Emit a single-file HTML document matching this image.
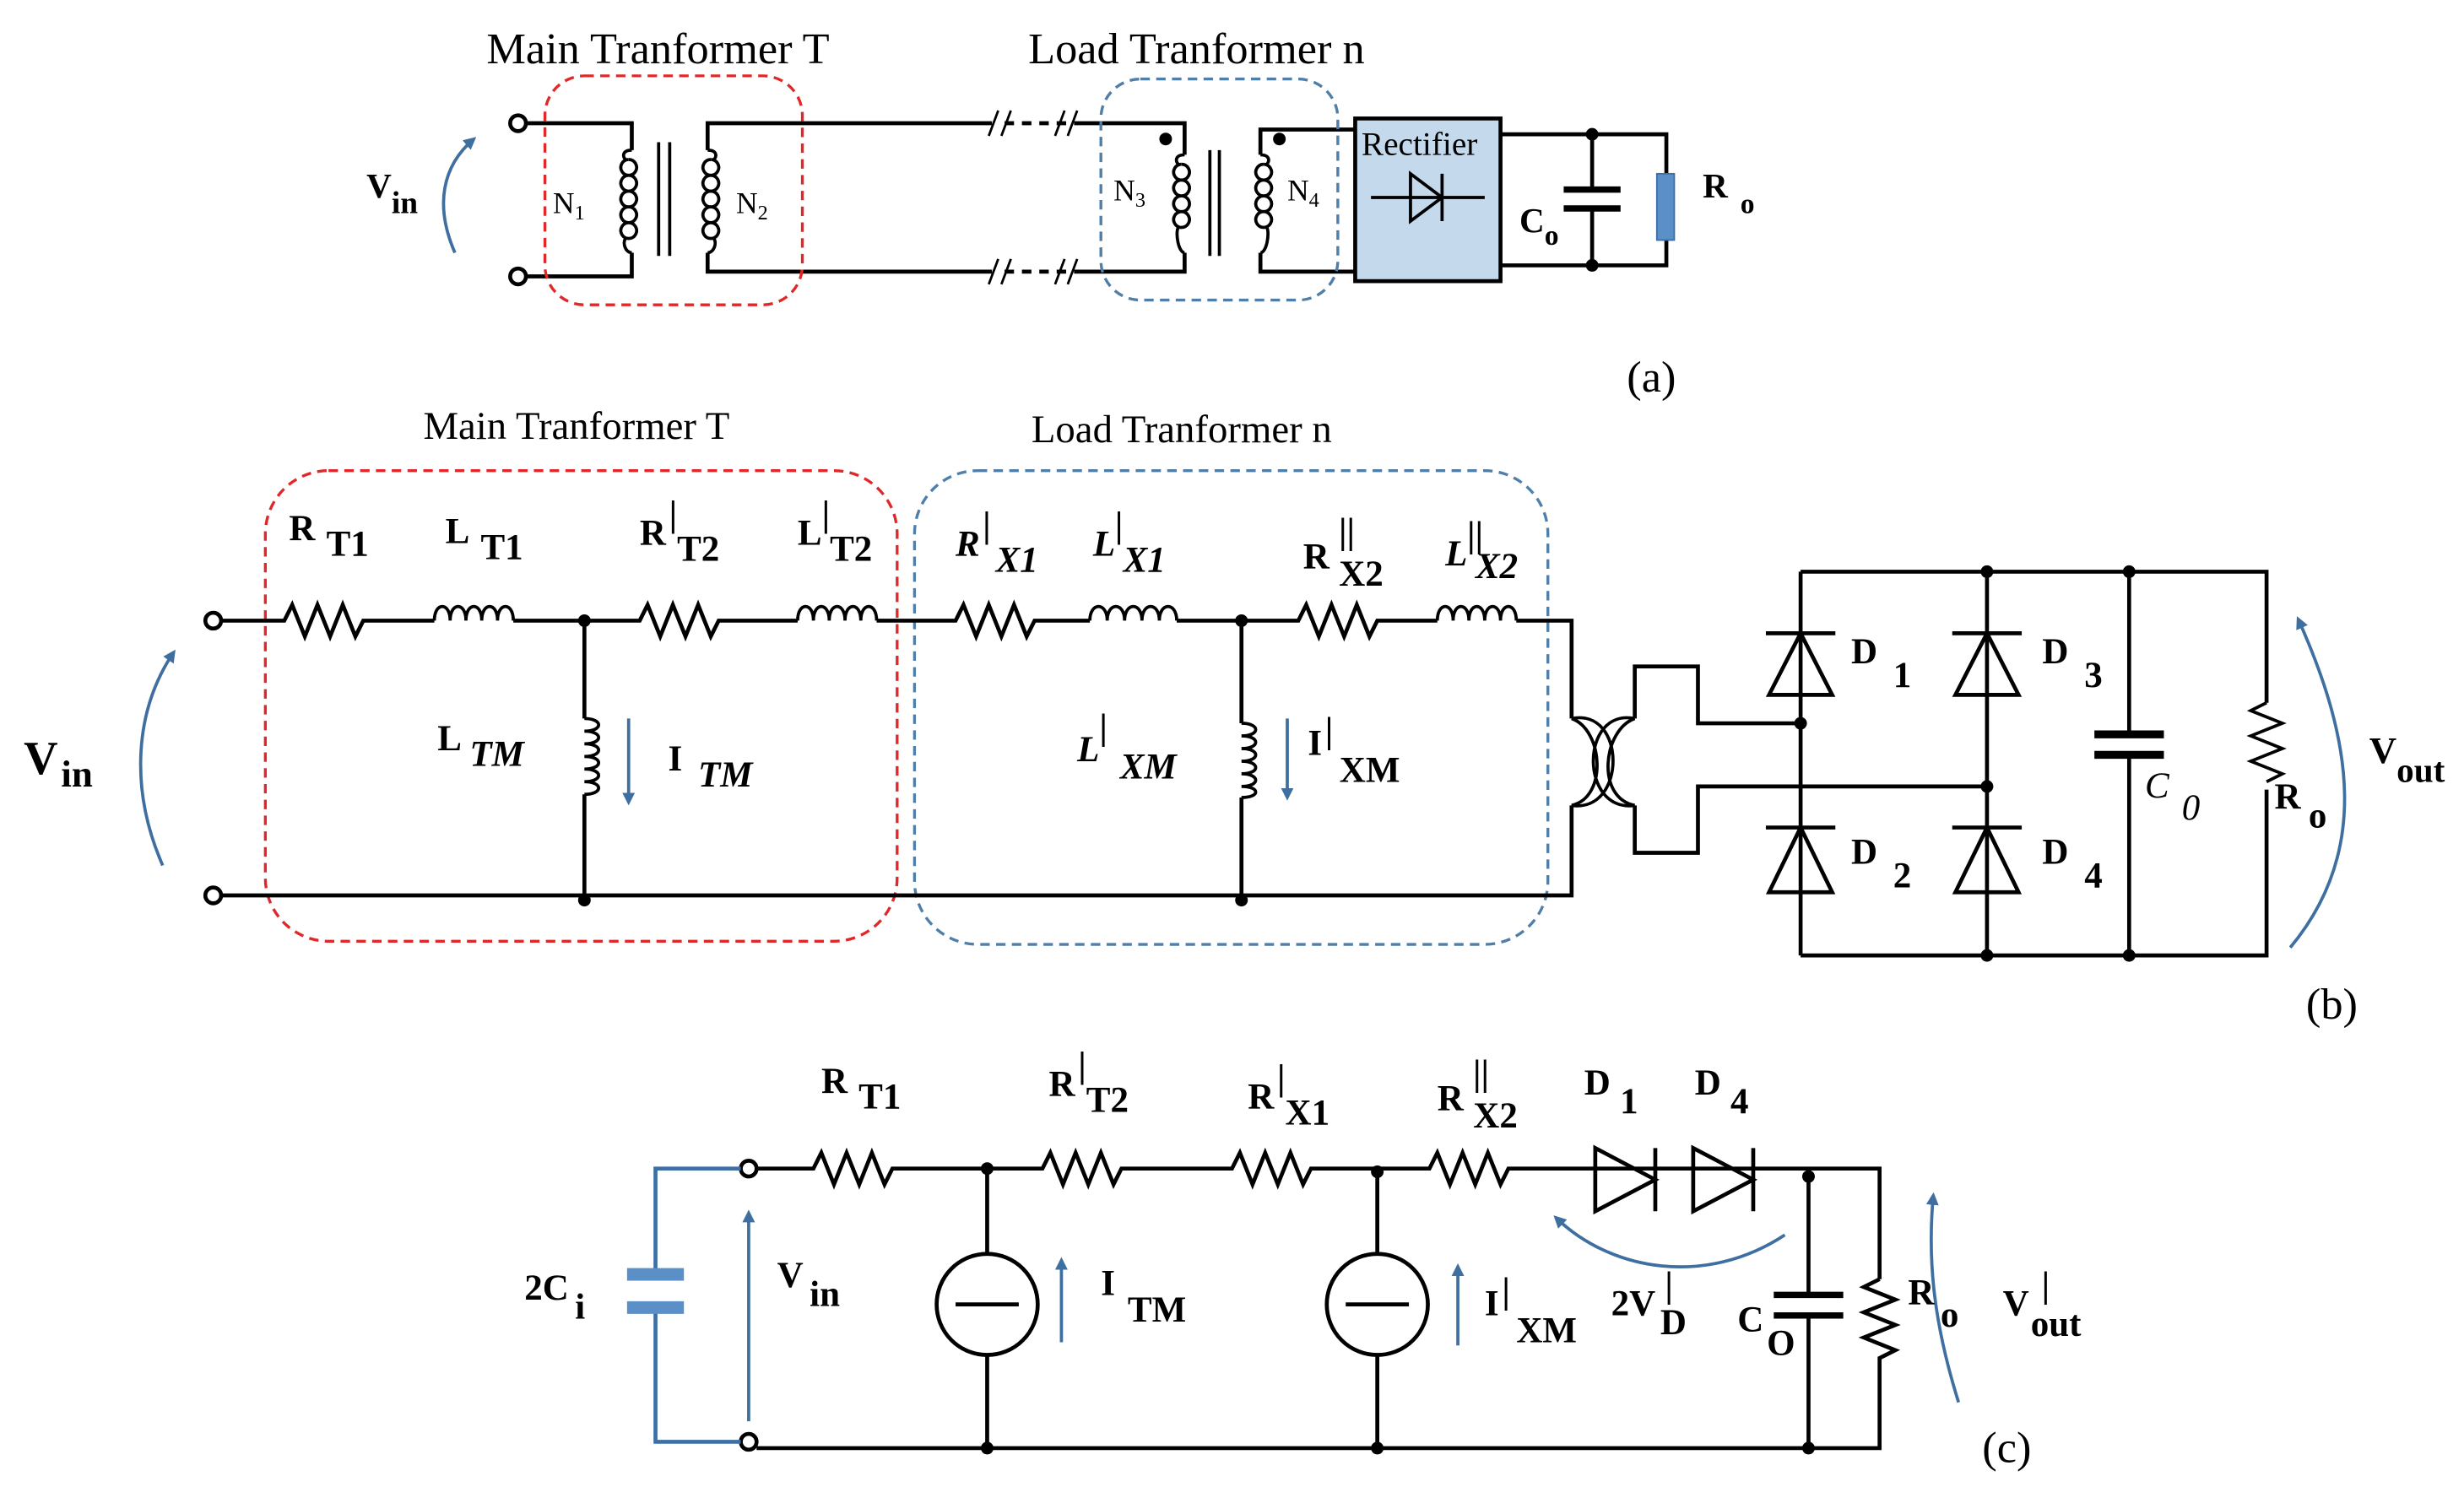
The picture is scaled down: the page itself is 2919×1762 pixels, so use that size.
<!DOCTYPE html>
<html><head><style>html,body{margin:0;padding:0;background:#fff}svg{display:block}svg text{font-family:"Liberation Serif",serif}</style></head>
<body>
<svg width="2919" height="1762" viewBox="0 0 1560 941.6" xmlns="http://www.w3.org/2000/svg" style="font-family:'Liberation Serif',serif">
<defs>
<marker id="ah" markerWidth="8" markerHeight="8" refX="6" refY="4" orient="auto" markerUnits="userSpaceOnUse"><path d="M0,0 L8,4 L0,8 z" fill="#3f6fa0"/></marker>
</defs>
<rect width="1560" height="942" fill="#fff"/>
<g stroke="#000" stroke-width="2.5" fill="none">
<!-- (a) -->
<circle cx="328" cy="78" r="5" fill="#fff"/><circle cx="328" cy="175" r="5" fill="#fff"/>
<path d="M333,78 H400 V95 M333,175 H400 V160"/>
<path d="M400,95 c-6,0 -6,4 -4,6 M398,101 a5,5 0 1 0 0.1,0 M398,111 a5,5 0 1 0 0.1,0 M398,121 a5,5 0 1 0 0.1,0 M398,131 a5,5 0 1 0 0.1,0 M398,141 a5,5 0 1 0 0.1,0 M396,151 c-2,3 0,9 4,9" stroke-width="2"/>
<path d="M417,90 V162 M424,90 V162" stroke-width="2"/>
<path d="M448,95 c6,0 6,4 4,6 M450,101 a5,5 0 1 0 0.1,0 M450,111 a5,5 0 1 0 0.1,0 M450,121 a5,5 0 1 0 0.1,0 M450,131 a5,5 0 1 0 0.1,0 M450,141 a5,5 0 1 0 0.1,0 M452,151 c2,3 0,9 -4,9" stroke-width="2"/>
<path d="M448,95 V78 H628 M448,160 V172 H628"/>
<path d="M636,78 H678 M636,172 H678" stroke-dasharray="6,5"/>
<path d="M626,86 l6,-16 M634,86 l6,-16 M668,86 l6,-16 M676,86 l6,-16 M626,180 l6,-16 M634,180 l6,-16 M668,180 l6,-16 M676,180 l6,-16" stroke-width="1.5"/>
<path d="M680,78 H750 V98 M680,172 H750 V160"/>
<path d="M750,98 c-6,0 -6,4 -4,6 M748,104 a5,5 0 1 0 0.1,0 M748,114 a5,5 0 1 0 0.1,0 M748,124 a5,5 0 1 0 0.1,0 M748,134 a5,5 0 1 0 0.1,0 M746,144 c-2,3 0,16 4,16" stroke-width="2"/>
<path d="M766,95 V162 M772,95 V162" stroke-width="2"/>
<path d="M798,98 c6,0 6,4 4,6 M800,104 a5,5 0 1 0 0.1,0 M800,114 a5,5 0 1 0 0.1,0 M800,124 a5,5 0 1 0 0.1,0 M800,134 a5,5 0 1 0 0.1,0 M802,144 c2,3 0,16 -4,16" stroke-width="2"/>
<path d="M798,98 V82 H858 M798,160 V172 H858"/>
<rect x="858" y="75" width="92" height="103" fill="#c5d9ec"/>
<path d="M868,125 H940 M893,110 L913,125 L893,140 Z M913,110 V140" stroke-width="2"/>
<path d="M950,85 H1055 V110 M950,168 H1055 V152 M1008,85 V120 M1008,132 V168"/>
<path d="M990,120 H1026 M990,132 H1026" stroke-width="4"/>
</g>
<rect x="1049" y="110" width="11" height="42" fill="#5b8fc7" stroke="#3d6fa6"/>
<circle cx="1008" cy="85" r="4"/><circle cx="1008" cy="168" r="4"/>
<circle cx="738" cy="88" r="4"/><circle cx="810" cy="88" r="4"/>
<rect x="345" y="48" width="163" height="145" rx="25" fill="none" stroke="#e0282a" stroke-width="1.8" stroke-dasharray="6,4"/>
<rect x="697" y="50" width="150" height="140" rx="25" fill="none" stroke="#4f7fa8" stroke-width="1.8" stroke-dasharray="6,4"/>
<path d="M288,160 C275,130 280,105 300,88" stroke="#3f6fa0" stroke-width="2" fill="none" marker-end="url(#ah)"/>
<g font-size="28"><text x="308" y="40">Main Tranformer  T</text><text x="651" y="40">Load Tranformer  n</text></g>
<g font-size="19"><text x="350" y="135">N<tspan font-size="13" dy="4">1</tspan></text><text x="466" y="135">N<tspan font-size="13" dy="4">2</tspan></text>
<text x="705" y="127">N<tspan font-size="13" dy="4">3</tspan></text><text x="815" y="127">N<tspan font-size="13" dy="4">4</tspan></text>
<text x="862" y="98" font-size="21">Rectifier</text></g>
<g font-weight="bold" font-size="22"><text x="232" y="125">V<tspan font-size="20" dy="10">in</tspan></text>
<text x="962" y="147">C<tspan font-size="18" dy="8">o</tspan></text><text x="1078" y="125">R<tspan font-size="18" dy="10" dx="8">o</tspan></text></g>
<text x="1030" y="248" font-size="28">(a)</text>

<!-- (b) -->
<g font-size="25"><text x="268" y="278">Main Tranformer  T</text><text x="653" y="280">Load Tranformer  n</text></g>
<rect x="168" y="298" width="400" height="298" rx="40" fill="none" stroke="#e0282a" stroke-width="1.8" stroke-dasharray="6,4"/>
<rect x="579" y="298" width="401" height="300" rx="40" fill="none" stroke="#4f7fa8" stroke-width="1.8" stroke-dasharray="6,4"/>
<g stroke="#000" stroke-width="2.5" fill="none">
<circle cx="135" cy="393" r="5" fill="#fff"/><circle cx="135" cy="567" r="5" fill="#fff"/>
<path d="M140,393 H180 l5,-10 l8,20 l8,-20 l8,20 l8,-20 l8,20 l5,-10 H275"/>
<path d="M275,393 c0,-12 10,-12 10,0 c0,-12 10,-12 10,0 c0,-12 10,-12 10,0 c0,-12 10,-12 10,0 c0,-12 10,-12 10,0" stroke-width="2"/>
<path d="M325,393 H405 l5,-10 l8,20 l8,-20 l8,20 l8,-20 l8,20 l5,-10 H505"/>
<path d="M505,393 c0,-12 10,-12 10,0 c0,-12 10,-12 10,0 c0,-12 10,-12 10,0 c0,-12 10,-12 10,0 c0,-12 10,-12 10,0" stroke-width="2"/>
<path d="M555,393 H605 l5,-10 l8,20 l8,-20 l8,20 l8,-20 l8,20 l5,-10 H690"/>
<path d="M690,393 c0,-12 11,-12 11,0 c0,-12 11,-12 11,0 c0,-12 11,-12 11,0 c0,-12 11,-12 11,0 c0,-12 11,-12 11,0" stroke-width="2"/>
<path d="M745,393 H822 l5,-10 l8,20 l8,-20 l8,20 l8,-20 l8,20 l5,-10 H910"/>
<path d="M910,393 c0,-12 10,-12 10,0 c0,-12 10,-12 10,0 c0,-12 10,-12 10,0 c0,-12 10,-12 10,0 c0,-12 10,-12 10,0" stroke-width="2"/>
<path d="M960,393 H995 V455 M140,567 H995 V510" />
<path d="M370,393 V455 M370,503 V570 M786,393 V458 M786,505 V570"/>
<path d="M370,455 c12,0 12,8 0,8 c12,0 12,8 0,8 c12,0 12,8 0,8 c12,0 12,8 0,8 c12,0 12,8 0,8 c12,0 12,8 0,8" stroke-width="2"/>
<path d="M786,458 c12,0 12,8 0,8 c12,0 12,8 0,8 c12,0 12,8 0,8 c12,0 12,8 0,8 c12,0 12,8 0,8 c12,0 12,7 0,7" stroke-width="2"/>
<path d="M995,455 C1015,462 1018,505 995,510 M995,455 C1030,448 1030,515 995,510 M1035,455 C1015,462 1010,505 1035,510 M1035,455 C1000,448 1000,515 1035,510" stroke-width="2"/>
<path d="M1035,455 V422 H1075 V458 H1140 M1035,510 V540 H1075 V498 H1258"/>
<path d="M1140,362 H1435 V445 M1140,605 H1435 V500 M1140,362 V605 M1258,362 V605 M1348,362 V465 M1348,478 V605"/>
<path d="M1435,445 l-10,5 l20,8 l-20,8 l20,8 l-20,8 l20,8 l-10,5" stroke-width="2"/>
<path d="M1326,465 H1370 M1326,478 H1370" stroke-width="5"/>
<path d="M1118,401 H1162 M1140,401 L1120,440 H1160 Z M1258,401 L1238,440 H1278 Z M1236,401 H1280 M1118,524 H1162 M1140,524 L1120,565 H1160 Z M1236,524 H1280 M1258,524 L1238,565 H1278 Z"/>
</g>
<g fill="#000"><circle cx="370" cy="393" r="4"/><circle cx="370" cy="570" r="4"/><circle cx="786" cy="393" r="4"/><circle cx="786" cy="570" r="4"/>
<circle cx="1140" cy="458" r="4"/><circle cx="1258" cy="498" r="4"/><circle cx="1258" cy="362" r="4"/><circle cx="1348" cy="362" r="4"/><circle cx="1258" cy="605" r="4"/><circle cx="1348" cy="605" r="4"/></g>
<path d="M398,455 V508" stroke="#3f6fa0" stroke-width="2" marker-end="url(#ah)"/>
<path d="M815,455 V505" stroke="#3f6fa0" stroke-width="2" marker-end="url(#ah)"/>
<path d="M103,548 C82,500 85,450 110,413" stroke="#3f6fa0" stroke-width="2" fill="none" marker-end="url(#ah)"/>
<path d="M1450,600 C1500,540 1490,470 1455,392" stroke="#3f6fa0" stroke-width="2" fill="none" marker-end="url(#ah)"/>
<g font-weight="bold" font-size="23">
<text x="183" y="342">R<tspan dx="7" dy="10">T1</tspan></text>
<text x="282" y="344">L<tspan dx="7" dy="10">T1</tspan></text>
<text x="405" y="345">R<tspan dx="2" dy="-12">|</tspan><tspan dy="22">T2</tspan></text>
<text x="505" y="345">L<tspan dy="-12">|</tspan><tspan dy="22">T2</tspan></text>
<text x="605" y="352" font-style="italic">R<tspan dx="2" dy="-12">|</tspan><tspan dx="3" dy="22">X1</tspan></text>
<text x="692" y="352" font-style="italic">L<tspan dy="-12">|</tspan><tspan dy="22">X1</tspan></text>
<text x="825" y="360">R<tspan dx="6" dy="-16">||</tspan><tspan dx="-10" dy="27">X2</tspan></text>
<text x="915" y="358" font-style="italic">L<tspan dy="-12">||</tspan><tspan dx="-5" dy="20">X2</tspan></text>
<text x="277" y="475">L<tspan dx="5" dy="10" font-style="italic">TM</tspan></text>
<text x="423" y="488">I<tspan dx="10" dy="10" font-style="italic">TM</tspan></text>
<text x="682" y="482" font-style="italic">L<tspan font-style="normal" dy="-14">|</tspan><tspan dx="8" dy="25">XM</tspan></text>
<text x="828" y="478">I<tspan dx="2" dy="-8">|</tspan><tspan dx="4" dy="25">XM</tspan></text>
<text x="15" y="490" font-size="30">V<tspan dx="2" dy="8" font-size="24">in</tspan></text>
<text x="1172" y="420">D<tspan dx="10" dy="15">1</tspan></text><text x="1293" y="420">D<tspan dx="10" dy="15">3</tspan></text>
<text x="1172" y="547">D<tspan dx="10" dy="15">2</tspan></text><text x="1293" y="547">D<tspan dx="10" dy="15">4</tspan></text>
<text x="1358" y="505" font-style="italic" font-weight="normal">C<tspan dx="8" dy="14">0</tspan></text>
<text x="1440" y="512">R<tspan dx="5" dy="12">o</tspan></text>
<text x="1500" y="483" font-size="24">V<tspan dy="12" font-size="22">out</tspan></text>
</g>
<text x="1460" y="645" font-size="28">(b)</text>

<!-- (c) -->
<g stroke="#000" stroke-width="2.5" fill="none">
<circle cx="474" cy="740" r="5" fill="#fff"/><circle cx="474" cy="913" r="5" fill="#fff"/>
<path d="M479,740 H515 l5,-10 l8,20 l8,-20 l8,20 l8,-20 l8,20 l5,-10 H660 l5,-10 l8,20 l8,-20 l8,20 l8,-20 l8,20 l5,-10 H780 l5,-10 l8,20 l8,-20 l8,20 l8,-20 l8,20 l5,-10 H905 l5,-10 l8,20 l8,-20 l8,20 l8,-20 l8,20 l5,-10 H1190 V810"/>
<path d="M1190,810 l-10,5 l20,8 l-20,8 l20,8 l-20,8 l20,8 l-10,5 V917 H479"/>
<path d="M625,740 V794 M625,858 V917 M872,742 V794 M872,858 V917 M1145,745 V820 M1145,833 V917"/>
<circle cx="625" cy="826" r="32"/><circle cx="872" cy="826" r="32"/>
<path d="M605,826 H645 M852,826 H892"/>
<path d="M1123,820 H1167 M1123,833 H1167" stroke-width="4"/>
<path d="M1010,727 V767 L1048,747 Z M1048,727 V767 M1072,727 V767 L1110,747 Z M1110,727 V767"/>
</g>
<g fill="#000"><circle cx="625" cy="740" r="4"/><circle cx="625" cy="917" r="4"/><circle cx="872" cy="742" r="4"/><circle cx="872" cy="917" r="4"/><circle cx="1145" cy="745" r="4"/><circle cx="1145" cy="917" r="4"/></g>
<path d="M469,740 H415 V805 M469,913 H415 V830" stroke="#3d6fa6" stroke-width="2.5" fill="none"/>
<rect x="397" y="803" width="36" height="8" fill="#5b8fc7"/><rect x="397" y="824" width="36" height="8" fill="#5b8fc7"/>
<path d="M474,900 V768" stroke="#3f6fa0" stroke-width="2" marker-end="url(#ah)"/>
<path d="M672,850 V798" stroke="#3f6fa0" stroke-width="2" marker-end="url(#ah)"/>
<path d="M923,852 V802" stroke="#3f6fa0" stroke-width="2" marker-end="url(#ah)"/>
<path d="M1130,782 C1080,815 1020,805 985,771" stroke="#3f6fa0" stroke-width="2" fill="none" marker-end="url(#ah)"/>
<path d="M1240,888 C1225,840 1220,800 1224,757" stroke="#3f6fa0" stroke-width="2" fill="none" marker-end="url(#ah)"/>
<g font-weight="bold" font-size="23">
<text x="520" y="692">R<tspan dx="7" dy="10">T1</tspan></text>
<text x="664" y="694">R<tspan dx="2" dy="-12">|</tspan><tspan dy="22">T2</tspan></text>
<text x="790" y="702">R<tspan dx="2" dy="-12">|</tspan><tspan dy="22">X1</tspan></text>
<text x="910" y="703">R<tspan dx="6" dy="-16">||</tspan><tspan dx="-10" dy="27">X2</tspan></text>
<text x="1003" y="693">D<tspan dx="6" dy="12">1</tspan></text><text x="1073" y="693">D<tspan dx="6" dy="12">4</tspan></text>
<text x="332" y="823">2C<tspan dx="4" dy="12">i</tspan></text>
<text x="492" y="815">V<tspan dx="4" dy="12">in</tspan></text>
<text x="697" y="820">I<tspan dx="8" dy="17">TM</tspan></text>
<text x="940" y="833">I<tspan dx="2" dy="-8">|</tspan><tspan dx="4" dy="25">XM</tspan></text>
<text x="1020" y="833">2V<tspan dx="6" dy="-12">|</tspan><tspan dx="-8" dy="24">D</tspan></text>
<text x="1100" y="843">C<tspan dx="2" dy="15">O</tspan></text>
<text x="1208" y="826">R<tspan dx="4" dy="14">o</tspan></text>
<text x="1268" y="833">V<tspan dx="8" dy="-12">|</tspan><tspan dx="-12" dy="25">out</tspan></text>
</g>
<text x="1255" y="926" font-size="28">(c)</text>
</svg>
</body></html>
